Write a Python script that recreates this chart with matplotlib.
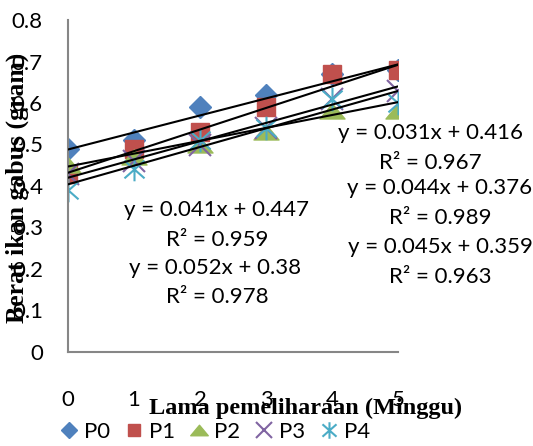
import matplotlib
matplotlib.use("Agg")
import matplotlib.pyplot as plt
import numpy as np
from matplotlib.path import Path

weeks = [0, 1, 2, 3, 4, 5]
series_names = ["P0", "P1", "P2", "P3", "P4"]
p0 = [0.49, 0.51, 0.59, 0.62, 0.67, 0.68]
p1 = [0.43, 0.49, 0.53, 0.59, 0.67, 0.68]
p2 = [0.45, 0.47, 0.50, 0.53, 0.58, 0.58]
p3 = [0.43, 0.46, 0.50, 0.54, 0.61, 0.63]
p4 = [0.39, 0.44, 0.51, 0.54, 0.61, 0.60]
slopes = [0.041, 0.052, 0.031, 0.044, 0.045]
intercepts = [0.447, 0.38, 0.416, 0.376, 0.359]
r2 = [0.959, 0.978, 0.967, 0.989, 0.963]
yticks = [0, 0.1, 0.2, 0.3, 0.4, 0.5, 0.6, 0.7, 0.8]
ytick_labels = ["0", "0.1", "0.2", "0.3", "0.4", "0.5", "0.6", "0.7", "0.8"]

values = [p0, p1, p2, p3, p4]
colors = ["#4F81BD", "#C0504D", "#9BBB59", "#8064A2", "#4BACC6"]

tri = Path([(-1, -0.6), (1, -0.6), (0, 0.6), (-1, -0.6)],
           [Path.MOVETO, Path.LINETO, Path.LINETO, Path.CLOSEPOLY])
ast = Path([(0, -1), (0, 1), (-0.85, -0.75), (0.85, 0.75), (-0.85, 0.75), (0.85, -0.75)],
           [Path.MOVETO, Path.LINETO, Path.MOVETO, Path.LINETO, Path.MOVETO, Path.LINETO])

styles = [
    dict(marker="D", markersize=11.5, markerfacecolor=colors[0], markeredgecolor=colors[0]),
    dict(marker="s", markersize=13, markerfacecolor=colors[1], markeredgecolor=colors[1]),
    dict(marker=tri, markersize=18, markerfacecolor=colors[2], markeredgecolor=colors[2]),
    dict(marker="x", markersize=16, markeredgecolor=colors[3], markeredgewidth=1.5),
    dict(marker=ast, markersize=17, markeredgecolor=colors[4], markerfacecolor="none", markeredgewidth=1.5),
]

fig = plt.figure(figsize=(5.33, 4.46), dpi=100)
ax = fig.add_axes([68/533, 1-352/446, (398-68)/533, (352-20)/446])

num_font = "Lato"
fs = 16

for name, vals, st in zip(series_names, values, styles):
    ax.plot(weeks, vals, linestyle="none", label=name, **st)

xw = np.array(weeks, dtype=float)
for m, b in zip(slopes, intercepts):
    ax.plot(xw, m * (xw + 1) + b, color="black", lw=1.5, zorder=5)

ax.set_xlim(0, 5)
ax.set_ylim(0, 0.8)
ax.set_yticks(yticks)
ax.set_yticklabels(ytick_labels, fontfamily=num_font, fontsize=fs)
ax.set_xticks(weeks)
ax.set_xticklabels([str(w) for w in weeks], fontfamily=num_font, fontsize=fs)
ax.tick_params(axis="both", length=0)
ax.tick_params(axis="y", pad=18)
ax.tick_params(axis="x", pad=27)
for s in ["top", "right"]:
    ax.spines[s].set_visible(False)
for s in ["left", "bottom"]:
    ax.spines[s].set_color("#868686")
    ax.spines[s].set_linewidth(1.5)

def eq_text(m, b):
    return f"y = {m:g}x + {b:g}"

eq_pos = [(216, 210, 217, 240), (215, 268, 217, 297), (430, 133, 430, 163),
          (440, 188, 440, 218), (440, 247, 440, 277)]
for (ex, ey, rx, ry), m, b, r in zip(eq_pos, slopes, intercepts, r2):
    fig.text(ex/533, 1-ey/446, eq_text(m, b), ha="center", va="center",
             fontfamily=num_font, fontsize=fs)
    fig.text(rx/533, 1-ry/446, f"R² = {r:g}", ha="center", va="center",
             fontfamily=num_font, fontsize=fs)

fig.text(306/533, 1-408/446, "Lama pemeliharaan (Minggu)", ha="center", va="center",
         fontfamily="Liberation Serif", fontweight="bold", fontsize=17.5)
fig.text(17/533, 1-188/446, "Berat ikan gabus (gram)", ha="center", va="center",
         rotation=90, fontfamily="Liberation Serif", fontweight="bold", fontsize=18.5)

leg = fig.legend(loc="center", bbox_to_anchor=(214/533, 1-432/446), ncol=5, frameon=False,
                 prop={"family": num_font, "size": fs}, handlelength=1.0,
                 handletextpad=0.15, columnspacing=0.6, markerscale=0.7,
                 borderaxespad=0, borderpad=0)

fig.savefig("out.png", dpi=100)
